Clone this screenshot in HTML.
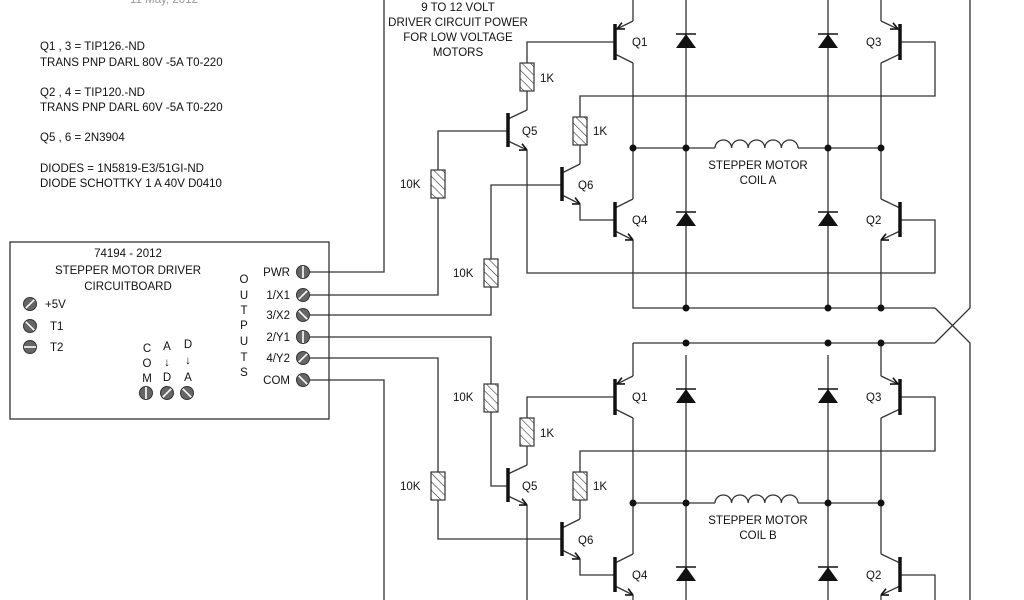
<!DOCTYPE html>
<html><head><meta charset="utf-8"><style>
html,body{margin:0;padding:0;background:#fff;width:1024px;height:600px;overflow:hidden;}
svg{display:block;overflow:hidden;}
text{font-family:"Liberation Sans",sans-serif;font-size:11.5px;fill:#111;}
</style></head><body>
<svg id="s" width="1024" height="600" viewBox="0 0 1024 600" xmlns="http://www.w3.org/2000/svg">
<defs>
<pattern id="h" width="6" height="6" patternUnits="userSpaceOnUse" patternTransform="rotate(-45)">
<line x1="0" y1="0" x2="0" y2="6" stroke="#333" stroke-width="1.2"/></pattern>
</defs>
<g id="g" stroke="#333" stroke-width="1.3" fill="none"></g>
<g id="f"></g>
<text x="130" y="3" style="fill:#999">11 May, 2012</text>
<text x="40" y="50">Q1 , 3 = TIP126.-ND</text>
<text x="40" y="66">TRANS PNP DARL 80V -5A T0-220</text>
<text x="40" y="96">Q2 , 4 = TIP120.-ND</text>
<text x="40" y="111">TRANS PNP DARL 60V -5A T0-220</text>
<text x="40" y="141">Q5 , 6 = 2N3904</text>
<text x="40" y="172">DIODES = 1N5819-E3/51GI-ND</text>
<text x="40" y="187">DIODE SCHOTTKY 1 A 40V D0410</text>
<g text-anchor="middle">
<text x="458" y="11">9 TO 12 VOLT</text>
<text x="458" y="26">DRIVER CIRCUIT POWER</text>
<text x="458" y="41">FOR LOW VOLTAGE</text>
<text x="458" y="56">MOTORS</text>
<text x="128" y="257">74194 - 2012</text>
<text x="128" y="274">STEPPER MOTOR DRIVER</text>
<text x="128" y="290">CIRCUITBOARD</text>
<text x="244" y="283">O</text><text x="244" y="299">U</text><text x="244" y="314">T</text><text x="244" y="329">P</text><text x="244" y="345">U</text><text x="244" y="361">T</text><text x="244" y="376">S</text>
<text x="147" y="352">C</text><text x="147" y="367">O</text><text x="147" y="382">M</text>
<text x="167" y="350">A</text><text x="167" y="366">↓</text><text x="167" y="381">D</text>
<text x="188" y="348">D</text><text x="188" y="364">↓</text><text x="188" y="381">A</text>
<text x="758" y="169">STEPPER MOTOR</text>
<text x="758" y="184">COIL  A</text>
<text x="758" y="524">STEPPER MOTOR</text>
<text x="758" y="539">COIL  B</text>
</g>
<text x="45" y="308">+5V</text><text x="50" y="330">T1</text><text x="50" y="351">T2</text>
<g text-anchor="end">
<text x="290" y="276">PWR</text><text x="290" y="299">1/X1</text><text x="290" y="319">3/X2</text>
<text x="290" y="341">2/Y1</text><text x="290" y="362">4/Y2</text><text x="290" y="384">COM</text>
</g>
<text x="540" y="82">1K</text><text x="593" y="135">1K</text>
<text x="400" y="188">10K</text><text x="453" y="277">10K</text>
<text x="540" y="437">1K</text><text x="593" y="490">1K</text>
<text x="453" y="401">10K</text><text x="400" y="490">10K</text>
<text x="632" y="46">Q1</text><text x="522" y="135">Q5</text><text x="578" y="189">Q6</text><text x="632" y="224">Q4</text>
<text x="866" y="46">Q3</text><text x="866" y="224">Q2</text>
<text x="632" y="401">Q1</text><text x="522" y="490">Q5</text><text x="578" y="544">Q6</text><text x="632" y="579">Q4</text>
<text x="866" y="401">Q3</text><text x="866" y="579">Q2</text>
</svg>
<script>
var g=document.getElementById('g'),f=document.getElementById('f'),NS='http://www.w3.org/2000/svg';
function el(p,t,a){var e=document.createElementNS(NS,t);for(var k in a)e.setAttribute(k,a[k]);p.appendChild(e);return e;}
function P(d){el(g,'path',{d:d});}
function dot(x,y){el(f,'circle',{cx:x,cy:y,r:3.5,fill:'#111'});}
function res(x,y){el(f,'rect',{x:x-7,y:y,width:14,height:28,fill:'url(#h)',stroke:'#333','stroke-width':1.2});}
function diode(x,y){el(f,'path',{d:'M'+(x-10)+' '+(y+14)+'L'+(x+10)+' '+(y+14)+'L'+x+' '+y+'Z',fill:'#111'});el(f,'line',{x1:x-10,y1:y,x2:x+10,y2:y,stroke:'#111','stroke-width':1.5});}
function arrow(x1,y1,x2,y2){var a=Math.atan2(y2-y1,x2-x1),L=8,w=0.45;
 el(f,'path',{d:'M'+x2+' '+y2+'L'+(x2-L*Math.cos(a-w))+' '+(y2-L*Math.sin(a-w))+'M'+x2+' '+y2+'L'+(x2-L*Math.cos(a+w))+' '+(y2-L*Math.sin(a+w)),stroke:'#111','stroke-width':1.6,fill:'none'});}
function tr(bx,y1,y2,ex,pnp){var d=ex>bx?1:-1;
 el(f,'line',{x1:bx,y1:y1,x2:bx,y2:y2,stroke:'#111','stroke-width':3.5});
 P('M'+bx+' '+(y1+6)+'L'+ex+' '+(y1-3));P('M'+bx+' '+(y2-6)+'L'+ex+' '+(y2+3));
 if(pnp)arrow(ex,y1-3,bx+d*2,y1+5);else arrow(bx,y2-6,ex,y2+3);}
function screw(x,y,ang){el(f,'circle',{cx:x,cy:y,r:6.5,fill:'#666',stroke:'#333','stroke-width':1});
 var c=Math.cos(ang*Math.PI/180)*6,s=Math.sin(ang*Math.PI/180)*6;
 el(f,'line',{x1:x-c,y1:y-s,x2:x+c,y2:y+s,stroke:'#fff','stroke-width':1.6});}
el(g,'rect',{x:10,y:242,width:319,height:177});
screw(30,304,-45);screw(30,326,45);screw(30,347,0);
screw(146,393,90);screw(167,393,-45);screw(187,393,45);
var oy=[272,295,315,337,358,380],oa=[90,-45,45,90,-45,45];
for(var i=0;i<6;i++)screw(303,oy[i],oa[i]);
P('M308 272H384V0');P('M308 380H384V600');
P('M308 295H438V198M438 170V131H508');
P('M308 315H491V287M491 259V185H562');
P('M308 337H491V384M491 412V486H508');
P('M308 358H438V472M438 500V539H562');
res(438,170);res(491,259);res(491,384);res(438,472);
function half(o){
 tr(615,24+o,60+o,633,1);tr(615,202+o,237+o,633,0);
 tr(900,24+o,60+o,881,1);tr(900,202+o,237+o,881,0);
 tr(508,113+o,147+o,527,0);tr(562,167+o,201+o,580,0);
 res(527,63+o);res(580,117+o);
 diode(686,34+o);diode(828,34+o);diode(686,212+o);diode(828,212+o);
 P('M615 '+(42+o)+'H527V'+(63+o));P('M527 '+(91+o)+'V'+(110+o));
 P('M580 '+(164+o)+'V'+(145+o));P('M580 '+(117+o)+'V'+(96+o)+'H935V'+(42+o)+'H900');
 P('M527 '+(150+o)+'V'+(273+o)+'H935V'+(220+o)+'H900');
 P('M580 '+(204+o)+'V'+(220+o)+'H615');
 P('M633 '+(63+o)+'V'+(199+o));P('M881 '+(63+o)+'V'+(199+o));
 P('M633 '+(240+o)+'V'+(308+o)+'H935');
 P('M881 '+(240+o)+'V'+(308+o));
 P('M686 '+(0+o)+'V'+(308+o));P('M828 '+(0+o)+'V'+(308+o));
 P('M633 '+(148+o)+'H715M798 '+(148+o)+'H881');
 var cp='M715 '+(148+o);for(var k=0;k<5;k++)cp+='A8.3 8 0 0 1 '+(715+(k+1)*16.6)+' '+(148+o);P(cp);
 dot(633,148+o);dot(686,148+o);dot(828,148+o);dot(881,148+o);
 dot(686,308+o);dot(828,308+o);dot(881,308+o);
}
half(0);half(355);
P('M633 0V21');P('M881 0V21');
P('M633 343V376');P('M881 343V376');P('M633 343H935');
dot(686,343);dot(828,343);dot(881,343);
P('M970 0V308L935 343');P('M935 308L970 343V600');
</script>
</body></html>
